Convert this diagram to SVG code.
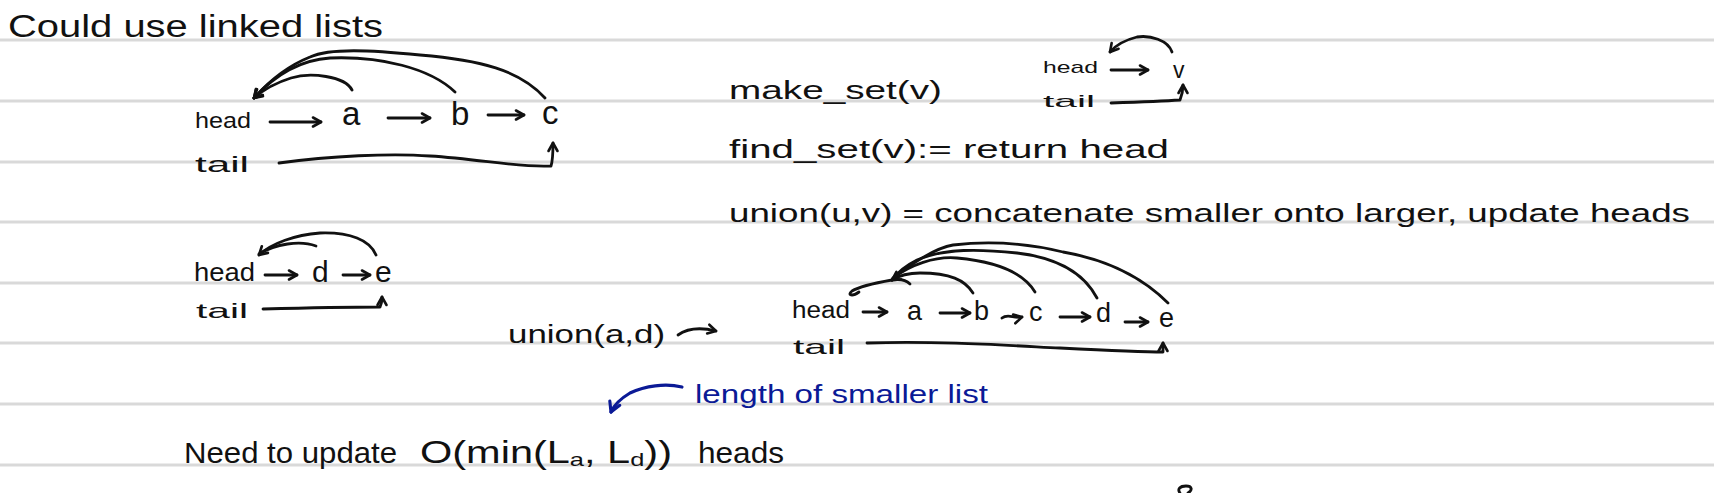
<svg xmlns="http://www.w3.org/2000/svg" width="1714" height="493" viewBox="0 0 1714 493">
<style>
.rule{stroke:#d9d9d9;stroke-width:3}
.t{font-family:"Liberation Sans",Arial,sans-serif;fill:#111}
.blue{fill:#0b1a96}
.ln{fill:none;stroke:#111;stroke-width:2.8;stroke-linecap:round;stroke-linejoin:round}
.lnb{fill:none;stroke:#0b1a96;stroke-width:3.2;stroke-linecap:round;stroke-linejoin:round}
</style>
<defs>
<marker id="ah" viewBox="0 0 10 10" refX="9" refY="5" markerWidth="10" markerHeight="10" markerUnits="userSpaceOnUse" orient="auto" overflow="visible">
<path d="M1,0.5 L9,5 L1,9.5" fill="none" stroke="#111" stroke-width="2.6" stroke-linecap="round" stroke-linejoin="round"/>
</marker>
<marker id="ahb" viewBox="0 0 10 10" refX="9" refY="5" markerWidth="12" markerHeight="12" markerUnits="userSpaceOnUse" orient="auto" overflow="visible">
<path d="M1,0.5 L9,5 L1,9.5" fill="none" stroke="#0b1a96" stroke-width="2.6" stroke-linecap="round" stroke-linejoin="round"/>
</marker>
</defs>
<rect width="1714" height="493" fill="#fff"/>
<g id="rules">
<line class="rule" x1="0" y1="40" x2="1714" y2="40"/>
<line class="rule" x1="0" y1="101" x2="1714" y2="101"/>
<line class="rule" x1="0" y1="162" x2="1714" y2="162"/>
<line class="rule" x1="0" y1="222" x2="1714" y2="222"/>
<line class="rule" x1="0" y1="283" x2="1714" y2="283"/>
<line class="rule" x1="0" y1="343" x2="1714" y2="343"/>
<line class="rule" x1="0" y1="404" x2="1714" y2="404"/>
<line class="rule" x1="0" y1="465" x2="1714" y2="465"/>
</g>
<g id="title"><text class="t" x="8" y="37" font-size="31" textLength="375" lengthAdjust="spacingAndGlyphs">Could use linked lists</text></g>
<g id="list1-head"><text class="t" x="195" y="128" font-size="22" textLength="56" lengthAdjust="spacingAndGlyphs">head</text></g>
<g id="list1-a"><text class="t" x="342" y="125" font-size="33">a</text></g>
<g id="list1-b"><text class="t" x="451" y="125" font-size="33">b</text></g>
<g id="list1-c"><text class="t" x="542" y="124" font-size="33">c</text></g>
<g id="list1-tail"><text class="t" x="195" y="172" font-size="22" textLength="54" lengthAdjust="spacingAndGlyphs">tail</text></g>
<g id="make-set"><text class="t" x="729" y="99" font-size="26" textLength="213" lengthAdjust="spacingAndGlyphs">make_set(v)</text></g>
<g id="ms-head"><text class="t" x="1043" y="73" font-size="17" textLength="55" lengthAdjust="spacingAndGlyphs">head</text></g>
<g id="ms-v"><text class="t" x="1173" y="78" font-size="23">v</text></g>
<g id="ms-tail"><text class="t" x="1043" y="107" font-size="17" textLength="52" lengthAdjust="spacingAndGlyphs">tail</text></g>
<g id="find-set"><text class="t" x="729" y="158" font-size="26" textLength="440" lengthAdjust="spacingAndGlyphs">find_set(v):= return head</text></g>
<g id="union-def"><text class="t" x="729" y="222" font-size="26" textLength="961" lengthAdjust="spacingAndGlyphs">union(u,v) = concatenate smaller onto larger, update heads</text></g>
<g id="list2-head"><text class="t" x="194" y="281" font-size="26" textLength="61" lengthAdjust="spacingAndGlyphs">head</text></g>
<g id="list2-d"><text class="t" x="312" y="282" font-size="30">d</text></g>
<g id="list2-e"><text class="t" x="375" y="282" font-size="30">e</text></g>
<g id="list2-tail"><text class="t" x="196" y="318" font-size="21" textLength="52" lengthAdjust="spacingAndGlyphs">tail</text></g>
<g id="union-ad"><text class="t" x="508" y="343" font-size="25" textLength="157" lengthAdjust="spacingAndGlyphs">union(a,d)</text></g>
<g id="list3-head"><text class="t" x="792" y="318" font-size="23" textLength="58" lengthAdjust="spacingAndGlyphs">head</text></g>
<g id="list3-a"><text class="t" x="907" y="320" font-size="27">a</text></g>
<g id="list3-b"><text class="t" x="974" y="320" font-size="27">b</text></g>
<g id="list3-c"><text class="t" x="1029" y="321" font-size="27">c</text></g>
<g id="list3-d"><text class="t" x="1096" y="322" font-size="27">d</text></g>
<g id="list3-e"><text class="t" x="1159" y="327" font-size="27">e</text></g>
<g id="list3-tail"><text class="t" x="793" y="354" font-size="21" textLength="52" lengthAdjust="spacingAndGlyphs">tail</text></g>
<g id="note"><text class="t blue" x="695" y="403" font-size="25" textLength="293" lengthAdjust="spacingAndGlyphs">length of smaller list</text></g>
<g id="need"><text class="t" x="184" y="463" font-size="29" textLength="213" lengthAdjust="spacingAndGlyphs">Need to update</text></g>
<g id="bigO"><text class="t" x="420" y="463" font-size="31" textLength="252" lengthAdjust="spacingAndGlyphs">O(min(L<tspan font-size="19" dy="3">a</tspan><tspan dy="-3">, L</tspan><tspan font-size="19" dy="3">d</tspan><tspan dy="-3">))</tspan></text></g>
<g id="heads"><text class="t" x="698" y="463" font-size="29" textLength="86" lengthAdjust="spacingAndGlyphs">heads</text></g>
<g id="connectors">
<path class="ln" d="M270,122 L321,122" marker-end="url(#ah)"/>
<path class="ln" d="M388,118 L430,118" marker-end="url(#ah)"/>
<path class="ln" d="M488,115 L524,115" marker-end="url(#ah)"/>
<path class="ln" d="M279,163 C330,156 390,153 430,156 C480,159 520,168 551,166 C553,160 553,150 553,143" marker-end="url(#ah)"/>
<path class="ln" d="M352,90 C345,76 310,72 291,78 C275,83 262,91 254,98" marker-end="url(#ah)"/>
<path class="ln" d="M455,92 C430,68 380,56 330,58 C300,60 275,75 254,98" marker-end="url(#ah)"/>
<path class="ln" d="M545,98 C520,70 480,60 420,55 C370,50 330,48 310,57 C290,65 270,80 254,98" marker-end="url(#ah)"/>
<path class="ln" d="M1111,70 L1148,70" marker-end="url(#ah)"/>
<path class="ln" d="M1172,52 C1168,40 1150,35 1137,37 C1125,40 1115,46 1110,52" marker-end="url(#ah)"/>
<path class="ln" d="M1111,103 C1140,102 1165,101 1180,100 C1182,95 1183,90 1183,85" marker-end="url(#ah)"/>
<path class="ln" d="M265,275 L297,275" marker-end="url(#ah)"/>
<path class="ln" d="M343,275 L370,275" marker-end="url(#ah)"/>
<path class="ln" d="M376,255 C370,240 350,232 320,233 C295,235 272,243 259,255" marker-end="url(#ah)"/>
<path class="ln" d="M259,254 C275,244 300,240 316,246"/>
<path class="ln" d="M263,309 C300,308 350,307 380,307 C382,303 382,300 382,297" marker-end="url(#ah)"/>
<path class="ln" d="M678,335 C688,328 700,327 716,331" marker-end="url(#ah)"/>
<path class="ln" d="M863,312 L887,312" marker-end="url(#ah)"/>
<path class="ln" d="M940,313 L970,313" marker-end="url(#ah)"/>
<path class="ln" d="M1002,318 C1008,313 1014,319 1022,317" marker-end="url(#ah)"/>
<path class="ln" d="M1060,317 L1090,317" marker-end="url(#ah)"/>
<path class="ln" d="M1125,322 L1148,322" marker-end="url(#ah)"/>
<path class="ln" d="M867,343 C940,341 1000,345 1060,348 C1100,350 1140,352 1163,352 C1163,349 1163,347 1163,343" marker-end="url(#ah)"/>
<path class="ln" d="M973,293 C965,280 950,273 920,273 C910,273 900,275 892,280" marker-end="url(#ah)"/>
<path class="ln" d="M1035,292 C1025,275 1000,262 957,258 C935,256 910,265 893,278"/>
<path class="ln" d="M1097,298 C1085,275 1060,258 1017,253 C980,249 945,248 917,260 C905,266 897,273 892,280"/>
<path class="ln" d="M1168,303 C1150,285 1120,262 1063,252 C1030,244 995,240 953,245 C935,248 910,265 893,278"/>
<path class="ln" d="M910,284 C905,279 898,279 892,280"/>
<path class="ln" d="M892,280 C875,283 860,286 852,291 C847,295 852,297 859,292"/>
<path class="lnb" d="M682,387 C665,383 645,386 630,393 C620,399 614,405 611,412" marker-end="url(#ahb)"/>
<path class="ln" d="M1180,493 C1177,489 1180,486 1186,486 C1192,486 1193,490 1188,493"/>
</g>
</svg>
